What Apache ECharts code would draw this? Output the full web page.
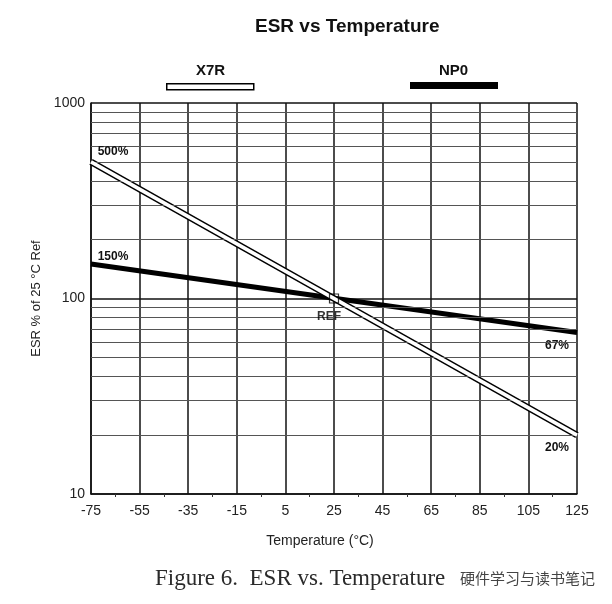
<!DOCTYPE html>
<html>
<head>
<meta charset="utf-8">
<script src="https://cdn.jsdelivr.net/npm/echarts@6/dist/echarts.min.js"></script>
<style>
  html, body { margin: 0; padding: 0; background: #ffffff; }
  #chart { width: 612px; height: 604px; }
</style>
</head>
<body>
<div id="chart"></div>
<script>
// data
const temps = [-75, 125]
const x7r = [500, 20]
const np0 = [150, 67]
const refPoint = [25, 100]
const xTicks = [-75, -55, -35, -15, 5, 25, 45, 65, 85, 105, 125]
const yTicks = [10, 100, 1000]
const gridValues = [20, 30, 40, 50, 60, 70, 80, 90, 200, 300, 400, 500, 600, 700, 800, 900]

// x axis is shifted so the ticks start at 0 (interval 20)
const x0 = xTicks[0]
const toX = t => t - x0

const font = 'Liberation Sans, Arial, sans-serif'

function lineData(vals, labels) {
  return temps.map((t, i) => ({
    value: [toX(t), vals[i]],
    label: labels[i],
  }))
}

const pctLabel = (pos, offset) => ({
  show: true,
  position: pos,
  offset: offset,
  formatter: p => p.value[1] + '%',
  color: '#111',
  fontSize: 12,
  fontWeight: 'bold',
  fontFamily: font,
})

let chart = echarts.init(document.getElementById('chart'))
chart.setOption({
  animation: false,
  backgroundColor: '#fff',
  title: [
    { text: 'ESR vs Temperature', left: 250, top: 12,
      textStyle: { fontSize: 19, fontWeight: 'bold', color: '#111', fontFamily: font } },
    { text: 'X7R', left: 191, top: 58,
      textStyle: { fontSize: 15, fontWeight: 'bold', color: '#111', fontFamily: font } },
    { text: 'NP0', left: 434, top: 58,
      textStyle: { fontSize: 15, fontWeight: 'bold', color: '#111', fontFamily: font } },
    { text: 'Figure 6.  ESR vs. Temperature', left: 150, top: 562,
      textStyle: { fontSize: 23, fontWeight: 'normal', color: '#2a2a2a', fontFamily: 'Liberation Serif, DejaVu Serif, serif' } },
    { text: '硬件学习与读书笔记', left: 455, top: 566,
      textStyle: { fontSize: 15, fontWeight: 'normal', color: '#444', fontFamily: 'Noto Sans CJK SC' } },
  ],
  legend: [
    { data: [{ name: 'X7R', icon: 'rect', itemStyle: { color: '#fff', borderColor: '#000', borderWidth: 1.5 } }],
      left: 161, top: 78, itemWidth: 87, itemHeight: 6, formatter: () => '', selectedMode: false },
    { data: [{ name: 'NP0', icon: 'rect', itemStyle: { color: '#000' } }],
      left: 405, top: 77, itemWidth: 88, itemHeight: 7, formatter: () => '', selectedMode: false },
  ],
  grid: { left: 91, right: 35, top: 103, bottom: 110 },
  xAxis: {
    type: 'value',
    min: 0,
    max: toX(xTicks[xTicks.length - 1]),
    interval: 20,
    name: 'Temperature (°C)',
    nameLocation: 'middle',
    nameGap: 40,
    nameTextStyle: { fontSize: 14, color: '#222', fontFamily: font, padding: [0, 28, 0, 0] },
    axisLine: { show: true, lineStyle: { color: '#111', width: 1.5 } },
    axisTick: { show: false },
    minorTick: { show: true, splitNumber: 2, length: 3, lineStyle: { color: '#333' } },
    axisLabel: { formatter: v => String(v + x0), fontSize: 14, color: '#222', fontFamily: font, margin: 10 },
    splitLine: { show: true, lineStyle: { color: '#111', width: 1.5 } },
  },
  yAxis: {
    type: 'log',
    logBase: 10,
    min: yTicks[0],
    max: yTicks[yTicks.length - 1],
    name: 'ESR % of 25 °C Ref',
    nameLocation: 'middle',
    nameGap: 45,
    nameTextStyle: { fontSize: 13, color: '#222', fontFamily: font },
    axisLine: { show: true, lineStyle: { color: '#111', width: 1.5 } },
    axisTick: { show: false },
    axisLabel: { formatter: v => String(v), fontSize: 14, color: '#222', fontFamily: font, margin: 6 },
    splitLine: { show: true, lineStyle: { color: '#111', width: 1.5 } },
  },
  series: [
    {
      name: 'grid',
      type: 'line',
      data: [],
      silent: true,
      markLine: {
        silent: true,
        symbol: ['none', 'none'],
        label: { show: false },
        lineStyle: { type: 'solid', color: '#555', width: 1.2 },
        data: gridValues.map(v => ({ yAxis: v })),
      },
    },
    {
      name: 'NP0',
      type: 'line',
      silent: true,
      symbol: 'circle',
      symbolSize: 0,
      itemStyle: { color: '#000' },
      lineStyle: { color: '#000', width: 5 },
      data: lineData(np0, [pctLabel('top', [22, 4]), pctLabel('bottom', [-20, 2])]),
      z: 3,
    },
    {
      name: 'X7R outline',
      type: 'line',
      silent: true,
      symbol: 'none',
      lineStyle: { color: '#000', width: 6.5 },
      data: lineData(x7r, [{}, {}]),
      z: 4,
    },
    {
      name: 'X7R',
      type: 'line',
      silent: true,
      symbol: 'circle',
      symbolSize: 0,
      itemStyle: { color: '#fff', borderColor: '#000' },
      lineStyle: { color: '#fff', width: 3.5 },
      data: lineData(x7r, [pctLabel('top', [22, 1]), pctLabel('bottom', [-20, 2])]),
      z: 5,
    },
    {
      name: 'REF',
      type: 'scatter',
      silent: true,
      symbol: 'rect',
      symbolSize: 9,
      itemStyle: { color: 'rgba(255,255,255,0)', borderColor: '#000', borderWidth: 1.2 },
      label: {
        show: true,
        position: 'bottom',
        offset: [-5, 2],
        formatter: 'REF',
        color: '#000',
        fontSize: 12,
        fontWeight: 'bold',
        fontFamily: font,
      },
      data: [[toX(refPoint[0]), refPoint[1]]],
      z: 6,
    },
  ],
})
window.onresize = function () {
  chart.resize()
}
</script>
</body>
</html>
